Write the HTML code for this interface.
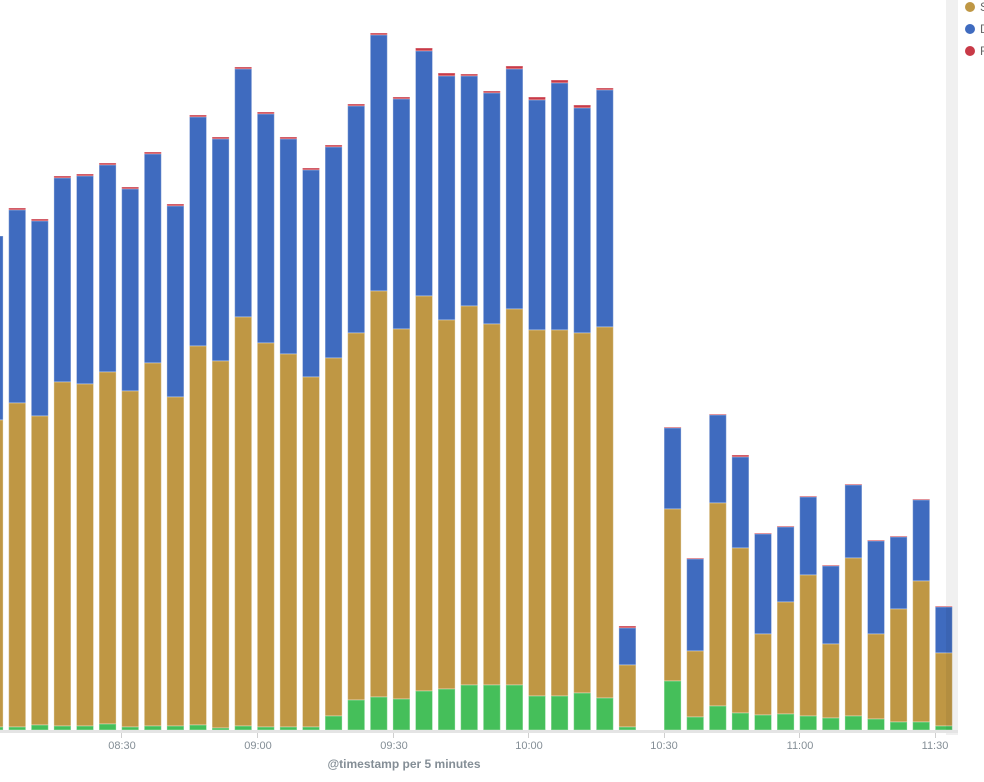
<!DOCTYPE html>
<html><head><meta charset="utf-8"><style>
body{margin:0;background:#fff;width:984px;height:782px;overflow:hidden;font-family:"Liberation Sans",sans-serif}
svg{position:absolute;left:0;top:0}
</style></head><body>
<svg id="s" width="984" height="782" xmlns="http://www.w3.org/2000/svg">
<rect x="946" y="0" width="12" height="735" fill="#f0f0f0"/>
<g id="bars"></g>
<line x1="0" y1="731.5" x2="958" y2="731.5" stroke="#e4e4e4" stroke-width="3"/>
<g stroke="#cfcfcf" stroke-width="1">
<line x1="121.5" y1="733" x2="121.5" y2="738"/><line x1="257.5" y1="733" x2="257.5" y2="738"/><line x1="393.5" y1="733" x2="393.5" y2="738"/><line x1="528.5" y1="733" x2="528.5" y2="738"/><line x1="664.5" y1="733" x2="664.5" y2="738"/><line x1="799.5" y1="733" x2="799.5" y2="738"/><line x1="935.5" y1="733" x2="935.5" y2="738"/>
</g>
<g fill="#848e96" font-size="11" text-anchor="middle">
<text x="122" y="749">08:30</text><text x="258" y="749">09:00</text><text x="394" y="749">09:30</text><text x="529" y="749">10:00</text><text x="664" y="749">10:30</text><text x="800" y="749">11:00</text><text x="935" y="749">11:30</text>
</g>
<text x="404" y="768" fill="#848e96" font-size="12" font-weight="bold" text-anchor="middle">@timestamp per 5 minutes</text>
<circle cx="970" cy="7" r="5" fill="#bf9744"/><circle cx="970" cy="29" r="5" fill="#3f6bbf"/><circle cx="970" cy="51" r="5" fill="#c83a47"/>
<g fill="#666" font-size="12"><text x="980" y="11">S</text><text x="980" y="33">D</text><text x="980" y="55">F</text></g>
</svg>
<script>
var d=[[236,236,420,727],[208,210,403,727],[219,221,416,725],[176,178,382,726],[174,176,384,726],[163,165,372,724],[187,189,391,727],[152,154,363,726],[204,206,397,726],[115,117,346,725],[137,139,361,728],[67,69,317,726],[112,114,343,727],[137,139,354,727],[168,170,377,727],[145,147,358,716],[104,106,333,700],[33,35,291,697],[97,99,329,699],[48,51,296,691],[73,76,320,689],[74,76,306,685],[91,93,324,685],[66,69,309,685],[97,100,330,696],[80,83,330,696],[105,108,333,693],[88,90,327,698],[626,628,665,727],null,
[427,428,509,681],[558,559,651,717],[414,415,503,706],[455,457,548,713],[533,534,634,715],[526,527,602,714],[496,497,575,716],[565,566,644,718],[484,485,558,716],[540,541,634,719],[536,537,609,722],[499,500,581,722],[606,607,653,726]];
var g=document.getElementById('bars'),h='';
function r(x,y1,y2,c){if(y2>y1)h+='<rect x="'+x.toFixed(1)+'" y="'+y1+'" width="17" height="'+(y2-y1)+'" fill="'+c+'" stroke="rgba(255,255,255,0.35)" stroke-width="1"/>';}
for(var i=0;i<d.length;i++){var b=d[i];if(!b)continue;var x=121.7+22.6*(i-6);
r(x,b[0],b[1],'#c83a47');r(x,b[1],b[2],'#3f6bbf');r(x,b[2],b[3],'#bf9744');r(x,b[3],730,'#45bf5a');}
h+='<rect x="946" y="607" width="6.5" height="123" fill="rgba(0,0,0,0.06)"/>';
g.innerHTML=h;
</script>
</body></html>
